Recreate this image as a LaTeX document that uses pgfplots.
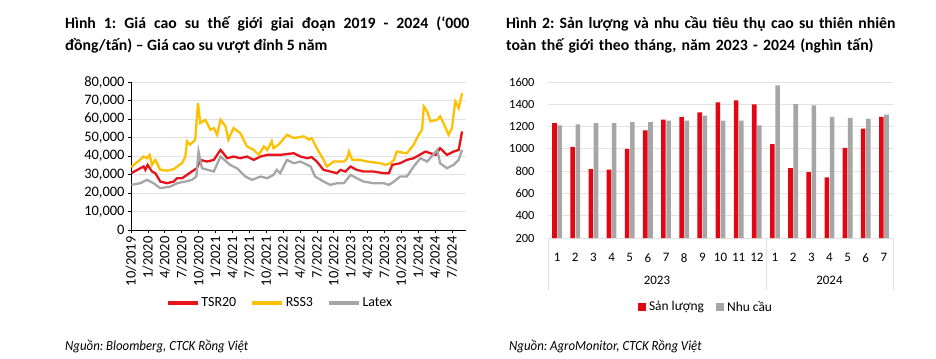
\documentclass[border=0pt]{standalone}
\usepackage{fontspec}
\setmainfont{Carlito}
\newfontfamily\srcfont[FakeStretch=0.92]{Carlito}
\usepackage{pgfplots}
\pgfplotsset{compat=1.18}
\definecolor{cred}{HTML}{E8141C}
\definecolor{cyel}{HTML}{FFC000}
\definecolor{cgray}{HTML}{A6A6A6}
\definecolor{bred}{HTML}{E30613}
\definecolor{gridc}{HTML}{E2E2E2}
\begin{document}
\frenchspacing
\begin{tikzpicture}
\path[fill=white, use as bounding box] (0,0) rectangle (936bp,-359bp);
\node[anchor=base west, inner sep=0, text width=404bp, align=justify, font=\fontsize{15.8}{22.5}\selectfont\bfseries] at (65bp,-28bp) {Hình 1: Giá cao su thế giới giai đoạn 2019 - 2024 (‘000\linebreak đồng/tấn) – Giá cao su vượt đỉnh 5 năm};
\node[anchor=base west, inner sep=0, text width=420bp, align=left, font=\fontsize{15.8}{22.5}\selectfont\bfseries] at (506bp,-28bp) {Hình 2: Sản lượng và nhu cầu tiêu thụ cao su thiên nhiên\\toàn thế giới theo tháng, năm 2023 - 2024 (nghìn tấn)};
\node[anchor=base west, inner sep=0, font=\fontsize{14}{16}\srcfont\itshape] at (65bp,-350bp) {Nguồn: Bloomberg, CTCK Rồng Việt};
\node[anchor=base west, inner sep=0, font=\fontsize{14}{16}\srcfont\itshape] at (509bp,-350bp) {Nguồn: AgroMonitor, CTCK Rồng Việt};

\begin{axis}[at={(131bp,-230bp)}, anchor=south west, scale only axis,
  width=335bp, height=148bp,
  xmin=0, xmax=59.5, ymin=0, ymax=80000,
  axis x line*=bottom, axis y line*=left, axis line style={-, black, line width=0.6bp},
  ytick={0,10000,...,80000}, ymajorgrids, grid style={gridc, line width=0.8bp},
  xtick={0,3,...,57},
  xticklabels={10/2019,1/2020,4/2020,7/2020,10/2020,1/2021,4/2021,7/2021,10/2021,1/2022,4/2022,7/2022,10/2022,1/2023,4/2023,7/2023,10/2023,1/2024,4/2024,7/2024},
  tick align=outside, major tick length=3bp, tick style={black, line width=0.6bp},
  x tick label style={rotate=90, anchor=east, font=\fontsize{14.5}{16}\selectfont},
  y tick label style={font=\fontsize{14.5}{16}\selectfont},
  /pgf/number format/assume math mode=true,
  /pgf/number format/1000 sep={,},
  scaled y ticks=false,
  legend style={at={(0.445,-0.493)}, anchor=center, draw=none, legend columns=3,
    font=\fontsize{14}{16}\selectfont, /tikz/every even column/.append style={column sep=12bp}},
  legend image code/.code={\draw[#1, line width=3.5bp] (0bp,0bp) -- (30bp,0bp);},
]
\addplot[color=cred, line width=2.3bp] coordinates {
(0.06,30700)(1.66,33400)(2.25,34300)(2.55,32500)(2.96,35200)(3.73,31600)(4.32,30700)(5.2,26200)(6.4,25300)(7.6,26200)(8.2,28000)(9.06,28000)(9.95,29800)(10.8,31600)(11.7,33400)(12.3,37900)(13.5,37000)(14.7,37900)(15.9,43300)(17.1,38800)(18.2,39700)(19.4,38800)(20.6,39700)(21.8,37900)(23.0,39700)(24.2,40600)(26.5,40600)(28.9,41500)(30.1,39700)(31.3,38800)(32.1,39400)(33.0,37000)(34.2,32500)(35.4,31600)(36.6,30700)(37.2,32500)(38.1,31600)(39.0,34300)(40.1,32500)(41.3,31600)(43.1,31600)(44.9,30700)(45.8,30700)(46.4,35200)(47.8,36100)(49.0,37900)(50.2,38800)(52.3,42400)(53.2,41500)(54.1,40600)(54.9,44200)(56.1,40600)(57.3,42400)(58.2,43300)(58.8,53300)};
\addlegendentry{TSR20}
\addplot[color=cyel, line width=2.3bp] coordinates {
(0.06,34000)(2.25,39700)(2.84,38800)(3.3,40600)(3.73,35200)(4.32,37900)(5.2,32500)(6.4,32100)(7.6,32900)(8.2,34300)(9.06,36100)(9.65,39700)(9.95,47900)(10.5,46100)(11.4,48800)(11.9,68600)(12.3,57800)(13.2,59600)(14.1,54200)(14.7,55100)(15.3,51500)(15.9,59600)(16.8,56000)(17.3,48800)(18.2,55100)(19.4,52400)(20.6,45200)(21.8,43300)(22.7,40600)(23.6,45200)(24.2,43300)(25.0,47900)(25.3,44200)(26.2,46100)(27.7,51500)(28.9,49700)(30.7,50600)(31.6,48800)(32.1,49700)(33.0,44200)(34.2,37900)(34.8,34300)(36.0,37000)(37.8,37000)(38.4,38800)(38.7,42400)(39.3,37900)(40.7,37900)(41.9,37000)(44.3,36100)(45.2,35200)(46.1,36100)(46.7,37900)(47.2,42400)(49.0,41500)(50.2,46100)(51.1,51500)(51.7,54200)(52.0,66800)(52.6,64100)(53.2,58700)(54.4,59600)(54.9,61400)(55.5,57800)(56.4,51500)(57.0,55100)(57.6,69500)(58.2,65900)(58.8,74000)};
\addlegendentry{RSS3}
\addplot[color=cgray, line width=2.3bp] coordinates {
(0.06,24400)(1.66,25300)(2.84,27100)(4.0,25300)(5.2,22600)(7.0,23500)(8.2,25300)(9.65,26200)(10.8,27100)(11.6,28900)(12.0,42400)(12.6,33400)(14.7,31600)(15.9,39700)(17.6,35200)(18.8,33400)(20.3,28900)(21.5,27100)(23.0,28900)(24.2,28000)(25.3,29800)(25.9,32500)(26.5,30700)(27.7,37900)(28.9,36100)(30.1,37000)(31.3,35200)(31.9,34300)(32.7,28900)(34.2,26200)(35.4,24400)(36.6,25300)(37.8,25300)(39.0,29800)(40.1,28000)(41.3,26200)(43.1,25300)(44.9,25300)(45.8,24400)(46.7,26200)(47.8,28900)(49.0,28900)(50.2,34300)(51.4,38800)(52.6,37000)(54.4,43300)(54.9,36100)(56.1,33400)(57.3,35200)(58.2,37900)(58.8,43300)};
\addlegendentry{Latex}
\end{axis}

\begin{axis}[at={(548bp,-238bp)}, anchor=south west, scale only axis,
  width=345bp, height=156bp,
  xmin=-0.5, xmax=18.5, ymin=200, ymax=1600,
  axis x line*=bottom, axis y line*=left,
  x axis line style={-, gridc, line width=0.8bp},
  y axis line style={draw=none},
  ytick={200,400,...,1600}, ymajorgrids, grid style={gridc, line width=0.8bp},
  xtick={0,...,18}, xticklabels={1,2,3,4,5,6,7,8,9,10,11,12,1,2,3,4,5,6,7},
  major tick length=0pt,
  x tick label style={yshift=-12bp, font=\fontsize{13}{15}\selectfont},
  y tick label style={font=\fontsize{12.5}{14}\selectfont, xshift=-10bp},
  /pgf/number format/assume math mode=true,
  /pgf/number format/1000 sep={},
  legend style={at={(0.458,-0.442)}, anchor=center, draw=none, legend columns=2,
    font=\fontsize{13.5}{15}\selectfont,
    /tikz/every odd column/.append style={column sep=2bp}},
]
\addplot[ybar, bar width=4.6bp, bar shift=-2.6bp, fill=bred, draw=none, forget plot] coordinates {
(0,1232)(1,1017)(2,819)(3,813)(4,999)(5,1166)(6,1262)(7,1286)(8,1328)(9,1417)(10,1435)(11,1399)(12,1043)(13,828)(14,792)(15,744)(16,1008)(17,1181)(18,1286)};
\addplot[ybar, bar width=4.6bp, bar shift=2.6bp, fill=cgray, draw=none, forget plot] coordinates {
(0,1211)(1,1220)(2,1232)(3,1232)(4,1241)(5,1241)(6,1253)(7,1253)(8,1298)(9,1253)(10,1253)(11,1211)(12,1570)(13,1402)(14,1390)(15,1286)(16,1277)(17,1268)(18,1307)};
\addlegendimage{legend image code/.code={\fill[bred] (0bp,-3.3bp) rectangle (6.6bp,3.3bp);}}
\addlegendentry{Sản lượng\kern10bp\null}
\addlegendimage{legend image code/.code={\fill[cgray] (0bp,-3.3bp) rectangle (6.6bp,3.3bp);}}
\addlegendentry{Nhu cầu}
\coordinate (S0) at (axis cs:-0.5,200);
\coordinate (S1) at (axis cs:11.5,200);
\coordinate (S2) at (axis cs:18.5,200);
\coordinate (Y1) at (axis cs:5.5,200);
\coordinate (Y2) at (axis cs:15,200);
\end{axis}
\draw[gridc, line width=0.8bp] (S0) -- ++(0bp,-52bp);
\draw[gridc, line width=0.8bp] (S1) -- ++(0bp,-52bp);
\draw[gridc, line width=0.8bp] (S2) -- ++(0bp,-52bp);
\node[font=\fontsize{13}{15}\selectfont] at ([yshift=-42bp]Y1) {2023};
\node[font=\fontsize{13}{15}\selectfont] at ([yshift=-42bp]Y2) {2024};
\end{tikzpicture}
\end{document}
